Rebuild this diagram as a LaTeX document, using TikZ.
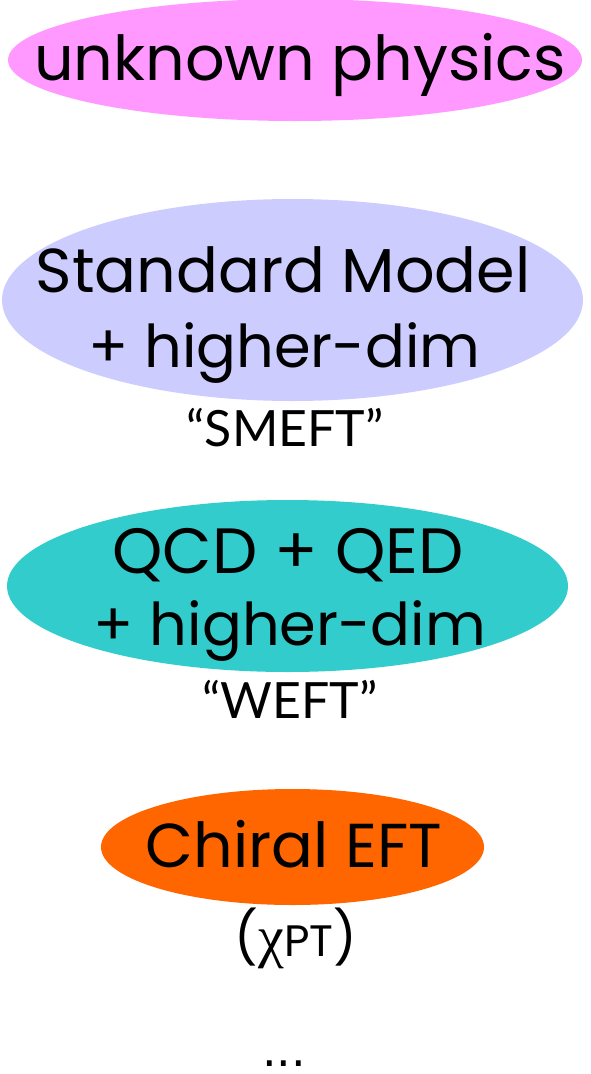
\documentclass[tikz,border=0pt]{standalone}
\usepackage{fontspec}
\setmainfont{Poppins}
\newfontfamily\labelfont{Lato}
\newfontfamily\greekfont{Liberation Serif}
\newfontfamily\dotfont{DejaVu Sans}
\usetikzlibrary{shapes.geometric}
\definecolor{pinkc}{RGB}{255,153,255}
\definecolor{bluec}{RGB}{204,204,255}
\definecolor{tealc}{RGB}{51,204,204}
\definecolor{orangec}{RGB}{255,102,0}
\begin{document}
\begin{tikzpicture}[x=1pt,y=-1pt,
  blob/.style={ellipse, inner sep=0pt, draw=none},
  big/.style={font=\fontsize{62}{62}\selectfont, anchor=base, inner sep=0pt},
  small/.style={font=\labelfont\fontsize{50}{50}\selectfont, anchor=base, inner sep=0pt}]
\useasboundingbox (0,0) rectangle (591,1074);
\node[blob, fill=pinkc, minimum width=574pt, minimum height=122pt] (e1) at (295,60) {};
\node[big] (t1) at (300,80) {unknown physics};
\node[blob, fill=bluec, minimum width=581pt, minimum height=202pt] (e2) at (292.5,300) {};
\node[big] (t2a) at (283,292) {Standard Model};
\node[big, font=\fontsize{59}{59}\selectfont] (t2b) at (284.5,367) {+ higher-dim};
\node[small] (l2) at (285,446) {“SMEFT”};
\node[blob, fill=tealc, minimum width=561pt, minimum height=172pt] (e3) at (287.5,586) {};
\node[big, font=\fontsize{64}{64}\selectfont] (t3a) at (288,573) {QCD + QED};
\node[big, font=\fontsize{59}{59}\selectfont] (t3b) at (290,645) {+ higher-dim};
\node[small] (l3) at (290,718) {“WEFT”};
\node[blob, fill=orangec, minimum width=383pt, minimum height=116pt] (e4) at (292.5,847) {};
\node[big] (t4) at (294,867) {Chiral EFT};
\node[big, font=\fontsize{52}{52}\selectfont] (l4) at (296,956) {({\greekfont\fontsize{58}{58}\selectfont χ}{\fontsize{44}{44}\selectfont PT})};
\node[big, font=\dotfont\fontsize{46}{46}\selectfont] (dots) at (284,1066) {...};
\end{tikzpicture}
\end{document}
